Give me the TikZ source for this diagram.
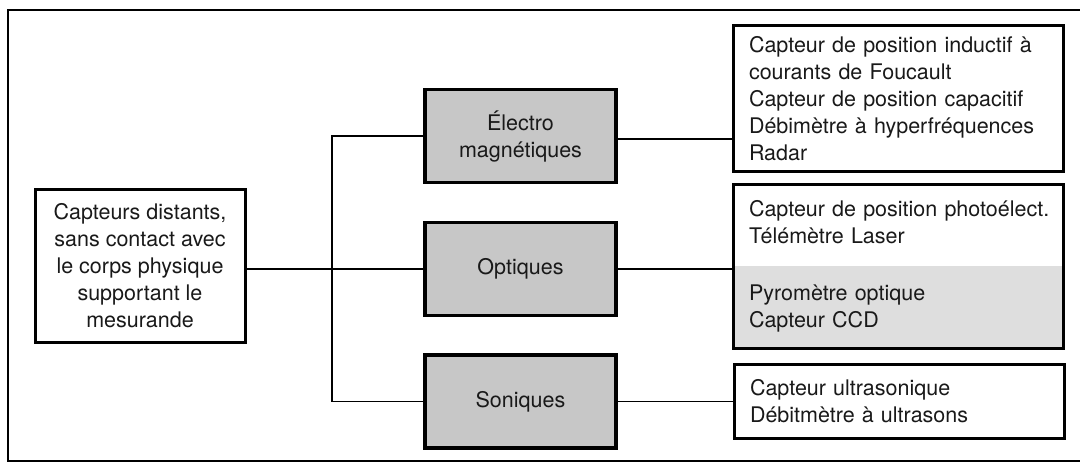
\documentclass[tikz,border=0pt]{standalone}
\usepackage{fontspec}
\setmainfont{TeX Gyre Heros}
\begin{document}
\begin{tikzpicture}[x=1pt,y=-1pt,
  txt/.style={font=\fontsize{21.5}{27}\selectfont, text=black!90},
  lbox/.style={txt, draw, line width=3pt, minimum width=210pt, minimum height=152pt, align=center, inner sep=0pt},
  mbox/.style={txt, draw, line width=3.4pt, fill=black!22, minimum width=191pt, minimum height=93pt, align=center, inner sep=0pt},
  rbox/.style={txt, draw, line width=3pt, minimum width=330pt, align=left, inner xsep=16pt, text width=298pt, inner ysep=0pt},
  wire/.style={line width=1.5pt},
  frame/.style={line width=2.5pt}
]
\useasboundingbox (0,0) rectangle (1080,468);
\clip (0,0) rectangle (1080,468);
% outer frame
\draw[frame] (1090,10) -- (8,10) -- (8,461) -- (1090,461);

% left box
\node[lbox] (l) at (140,266) {Capteurs distants,\\sans contact avec\\le corps physique\\supportant le\\mesurande};

% middle boxes
\node[mbox] (e) at (520.5,136) {Électro\\magnétiques};
\node[mbox] (o) at (520.5,269) {Optiques};
\node[mbox] (s) at (520.5,401.5) {Soniques};

% right boxes
\node[rbox, minimum height=146pt] (r1) at (898,99) {Capteur de position inductif à\\courants de Foucault\\Capteur de position capacitif\\Débimètre à hyperfréquences\\Radar};
\node[rbox, minimum height=163pt,
  path picture={\fill[black!13] (path picture bounding box.south west) rectangle ([yshift=1pt]path picture bounding box.east);}
  ] (r2) at (898,266.5) {\mbox{Capteur de position photoélect.}\\Télémètre Laser\\[30pt]Pyromètre optique\\Capteur CCD};
\node[rbox, minimum height=74pt] (r3) at (899,401) {Capteur ultrasonique\\Débitmètre à ultrasons};

% connectors
\coordinate (bus) at (332,268);
\draw[wire] (l.east |- o.west) -- (o.west);
\draw[wire] (e.west) -- (e.west -| bus) -- (s.west -| bus) -- (s.west);
\draw[wire] ([yshift=-3pt]e.east) -- ([yshift=-3pt]e.east -| r1.west);
\draw[wire] (o.east) -- (o.east -| r2.west);
\draw[wire] (s.east) -- (s.east -| r3.west);
\end{tikzpicture}
\end{document}
